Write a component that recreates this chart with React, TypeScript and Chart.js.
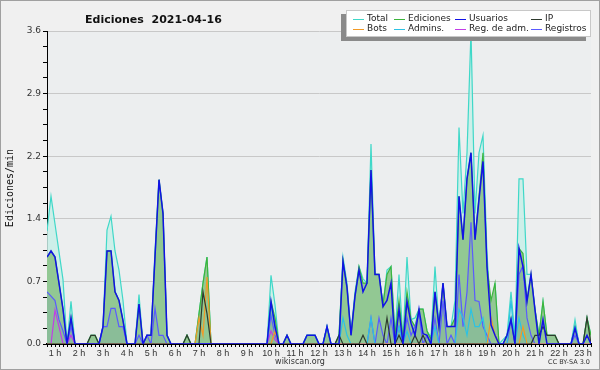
import React, { useEffect, useRef } from 'react';
import { Chart, registerables } from 'chart.js';

Chart.register(...registerables);

// 10-minute bins, first bin = 4 (00:40), last = 140 (23:20)
const START_BIN = 4;

const total = [
  1.3, 1.7,
  1.38, 1.06, 0.74, 0, 0.49, 0,
  0, 0, 0, 0.1, 0.1, 0,
  0.2, 1.31, 1.47, 1.07, 0.85, 0.5,
  0, 0, 0, 0.57, 0, 0.1,
  0.1, 1.07, 1.89, 1.51, 0.1, 0,
  0, 0, 0, 0.1, 0, 0,
  0.35, 0.7, 1.0, 0, 0, 0,
  0, 0, 0, 0, 0, 0,
  0, 0, 0, 0, 0, 0,
  0.79, 0.45, 0, 0, 0.1, 0,
  0, 0, 0, 0.1, 0.1, 0.1,
  0, 0, 0.2, 0, 0, 0.1,
  1.0, 0.7, 0.12, 0.6, 0.89, 0.75,
  0.7, 2.3, 0.8, 0.8, 0.45, 0.85,
  0.89, 0.1, 0.8, 0.05, 1.0, 0.28,
  0.3, 0.4, 0.4, 0.15, 0.08, 0.89,
  0.2, 0.7, 0.2, 0.2, 0.5, 2.49,
  1.5, 2.2, 3.6, 1.5, 2.2, 2.4,
  1.04, 0.3, 0.7, 0, 0.05, 0.1,
  0.6, 0.08, 1.9, 1.9, 0.8, 0.8,
  0.39, 0.1, 0.49, 0.1, 0.1, 0.1,
  0, 0, 0, 0, 0.28, 0,
  0, 0.3, 0.1,
];

const ediciones = [
  1.0, 1.07,
  1.0, 0.7, 0.4, 0, 0.3, 0,
  0, 0, 0, 0.1, 0.1, 0,
  0.2, 1.07, 1.07, 0.6, 0.5, 0.27,
  0, 0, 0, 0.46, 0, 0.1,
  0.1, 1.0, 1.89, 1.5, 0.1, 0,
  0, 0, 0, 0.1, 0, 0,
  0.35, 0.7, 1.0, 0, 0, 0,
  0, 0, 0, 0, 0, 0,
  0, 0, 0, 0, 0, 0,
  0.49, 0.3, 0, 0, 0.1, 0,
  0, 0, 0, 0.1, 0.1, 0.1,
  0, 0, 0.2, 0, 0, 0.1,
  0.95, 0.65, 0.1, 0.55, 0.89, 0.7,
  0.7, 2.0, 0.8, 0.8, 0.45, 0.8,
  0.89, 0.1, 0.5, 0.05, 0.6, 0.28,
  0.2, 0.4, 0.4, 0.15, 0.05, 0.6,
  0.2, 0.7, 0.2, 0.2, 0.3, 1.7,
  1.2, 1.9, 2.2, 1.2, 1.7, 2.2,
  0.9, 0.5, 0.7, 0, 0, 0.1,
  0.3, 0, 1.1, 1.04, 0.5, 0.8,
  0.4, 0.1, 0.49, 0.1, 0.1, 0.1,
  0, 0, 0, 0, 0.2, 0,
  0, 0.3, 0.1,
];

const usuarios = [
  1.0, 1.07,
  1.0, 0.7, 0.4, 0, 0.3, 0,
  0, 0, 0, 0, 0, 0,
  0.2, 1.07, 1.07, 0.6, 0.5, 0.27,
  0, 0, 0, 0.46, 0, 0.1,
  0.1, 1.0, 1.89, 1.5, 0.1, 0,
  0, 0, 0, 0, 0, 0,
  0, 0, 0, 0, 0, 0,
  0, 0, 0, 0, 0, 0,
  0, 0, 0, 0, 0, 0,
  0.49, 0.2, 0, 0, 0.1, 0,
  0, 0, 0, 0.1, 0.1, 0.1,
  0, 0, 0.2, 0, 0, 0,
  0.95, 0.65, 0.1, 0.55, 0.85, 0.6,
  0.7, 2.0, 0.8, 0.8, 0.43, 0.5,
  0.7, 0, 0.4, 0, 0.49, 0.24,
  0.1, 0.4, 0.12, 0.1, 0, 0.6,
  0.2, 0.7, 0.2, 0.2, 0.2, 1.7,
  1.2, 1.9, 2.2, 1.2, 1.66, 2.1,
  0.89, 0.22, 0.1, 0, 0, 0.1,
  0.28, 0, 1.1, 0.89, 0.49, 0.8,
  0.39, 0, 0.28, 0, 0, 0,
  0, 0, 0, 0, 0.18, 0,
  0, 0.1, 0,
];

const ip = [
  0, 0,
  0, 0, 0, 0, 0, 0,
  0, 0, 0, 0.1, 0.1, 0,
  0, 0, 0, 0, 0, 0,
  0, 0, 0, 0, 0, 0,
  0, 0, 0, 0, 0, 0,
  0, 0, 0, 0.1, 0, 0,
  0, 0.6, 0.35, 0, 0, 0,
  0, 0, 0, 0, 0, 0,
  0, 0, 0, 0, 0, 0,
  0, 0, 0, 0, 0, 0,
  0, 0, 0, 0, 0, 0,
  0, 0, 0, 0, 0, 0.1,
  0, 0, 0, 0, 0, 0.1,
  0, 0, 0, 0, 0, 0.3,
  0, 0, 0.1, 0, 0, 0,
  0.1, 0, 0.1, 0, 0, 0,
  0, 0, 0, 0, 0, 0,
  0, 0, 0, 0, 0, 0,
  0, 0, 0, 0, 0, 0,
  0, 0, 0, 0, 0, 0,
  0.1, 0.1, 0.2, 0.1, 0.1, 0.1,
  0, 0, 0, 0, 0, 0,
  0, 0.3, 0,
];

const bots = [
  0, 0,
  0, 0, 0, 0, 0, 0,
  0, 0, 0, 0, 0, 0,
  0, 0, 0, 0, 0, 0,
  0, 0, 0, 0, 0, 0,
  0, 0, 0, 0, 0, 0,
  0, 0, 0, 0, 0, 0,
  0.3, 0.1, 0.77, 0, 0, 0,
  0, 0, 0, 0, 0, 0,
  0, 0, 0, 0, 0, 0,
  0, 0.15, 0, 0, 0, 0,
  0, 0, 0, 0, 0, 0,
  0, 0, 0, 0, 0, 0,
  0, 0, 0, 0, 0, 0,
  0, 0, 0, 0, 0, 0,
  0, 0, 0, 0, 0, 0,
  0, 0, 0, 0, 0, 0,
  0, 0, 0, 0, 0, 0,
  0, 0, 0, 0, 0, 0,
  0, 0.3, 0.1, 0, 0, 0,
  0, 0, 0, 0.2, 0, 0,
  0, 0, 0, 0, 0, 0,
  0, 0, 0, 0, 0, 0,
  0, 0, 0,
];

const admins = [
  0, 0,
  0, 0, 0, 0, 0, 0,
  0, 0, 0, 0, 0, 0,
  0, 0, 0, 0, 0, 0,
  0, 0, 0, 0, 0, 0,
  0, 0, 0, 0, 0, 0,
  0, 0, 0, 0, 0, 0,
  0, 0, 0, 0, 0, 0,
  0, 0, 0, 0, 0, 0,
  0, 0, 0, 0, 0, 0,
  0.45, 0.2, 0, 0, 0, 0,
  0, 0, 0, 0.1, 0.1, 0.1,
  0, 0, 0.2, 0, 0, 0,
  0.3, 0.1, 0, 0, 0, 0,
  0, 0.3, 0, 0, 0, 0,
  0, 0, 0.2, 0, 0.15, 0,
  0, 0, 0, 0, 0, 0.2,
  0, 0, 0, 0, 0, 0.4,
  0.3, 0.1, 0.4, 0.2, 0.2, 0.3,
  0, 0, 0, 0, 0, 0,
  0.5, 0, 0.3, 0.1, 0, 0,
  0, 0, 0, 0, 0, 0,
  0, 0, 0, 0, 0.2, 0,
  0, 0, 0,
];

const regAdm = [
  0, 0,
  0.39, 0.2, 0, 0, 0.1, 0,
  0, 0, 0, 0, 0, 0,
  0, 0, 0, 0, 0, 0,
  0, 0, 0, 0, 0, 0,
  0, 0, 0, 0, 0, 0,
  0, 0, 0, 0, 0, 0,
  0, 0, 0, 0, 0, 0,
  0, 0, 0, 0, 0, 0,
  0, 0, 0, 0, 0, 0,
  0.15, 0.05, 0, 0, 0, 0,
  0, 0, 0, 0, 0, 0,
  0, 0, 0, 0, 0, 0,
  0, 0, 0, 0, 0, 0,
  0, 0, 0, 0, 0, 0,
  0, 0, 0, 0, 0, 0,
  0, 0, 0, 0, 0, 0,
  0, 0, 0, 0, 0, 0,
  0, 0, 0, 0, 0, 0,
  0, 0, 0, 0, 0, 0,
  0, 0, 0, 0, 0, 0,
  0, 0, 0, 0, 0, 0,
  0, 0, 0, 0, 0, 0,
  0, 0, 0,
];

const registros = [
  0.6, 0.55,
  0.5, 0.28, 0.15, 0, 0.2, 0,
  0, 0, 0, 0, 0, 0,
  0.2, 0.2, 0.41, 0.41, 0.2, 0.2,
  0, 0, 0, 0.1, 0, 0.1,
  0, 0.41, 0.1, 0.1, 0, 0,
  0, 0, 0, 0, 0, 0,
  0, 0, 0, 0, 0, 0,
  0, 0, 0, 0, 0, 0,
  0, 0, 0, 0, 0, 0,
  0.33, 0.1, 0, 0, 0, 0,
  0, 0, 0, 0, 0, 0,
  0, 0, 0, 0, 0, 0,
  0, 0, 0, 0, 0, 0,
  0, 0.3, 0, 0.3, 0.1, 0,
  0.3, 0, 0.2, 0, 0.3, 0.1,
  0.2, 0.35, 0, 0.1, 0, 0.3,
  0, 0.5, 0, 0.1, 0, 0.8,
  0.2, 0.6, 1.4, 0.5, 0.49, 0.2,
  0.1, 0, 0, 0, 0, 0,
  0.28, 0, 0.8, 0.9, 0.3, 0.1,
  0, 0, 0, 0, 0, 0,
  0, 0, 0, 0, 0.1, 0,
  0, 0, 0,
];

const legendLabels = ['Total', 'Ediciones', 'Usuarios', 'IP', 'Bots', 'Admins.', 'Reg. de adm.', 'Registros'];
const titleText = 'Ediciones  2021-04-16';
const yTitle = 'Ediciones/min';

const COLORS = {
  total: '#3fd8c8',
  ediciones: '#3cb53c',
  usuarios: '#1212e6',
  ip: '#2e3a2e',
  bots: '#f29a26',
  admins: '#2cc2e4',
  regAdm: '#c23de6',
  registros: '#5a5aff',
};
const legendColors = [COLORS.total, COLORS.ediciones, COLORS.usuarios, COLORS.ip, COLORS.bots, COLORS.admins, COLORS.regAdm, COLORS.registros];

const toPts = (arr: number[]) => arr.map((v, i) => ({ x: START_BIN + i, y: v }));

const decor = {
  id: 'decor',
  beforeDraw(chart: any) {
    const { ctx, chartArea: a } = chart;
    ctx.save();
    ctx.fillStyle = '#f0f0f0';
    ctx.fillRect(0, 0, chart.width, chart.height);
    ctx.fillStyle = '#eceeef';
    ctx.fillRect(a.left, a.top, a.right - a.left, a.bottom - a.top);
    ctx.restore();
  },
  afterDraw(chart: any) {
    const { ctx } = chart;
    ctx.save();
    // title
    ctx.fillStyle = '#111';
    ctx.font = 'bold 11px "DejaVu Sans"';
    ctx.textAlign = 'left';
    ctx.textBaseline = 'alphabetic';
    ctx.fillText(titleText, 85, 23);
    // y title
    ctx.save();
    ctx.translate(10, 188);
    ctx.rotate(-Math.PI / 2);
    ctx.font = '10px "DejaVu Sans Mono"';
    ctx.textAlign = 'center';
    ctx.textBaseline = 'middle';
    ctx.fillStyle = '#111';
    ctx.fillText(yTitle, 0, 0);
    ctx.restore();
    // legend box with shadow
    ctx.fillStyle = '#8a8a8a';
    ctx.fillRect(341, 14, 245, 27);
    ctx.fillStyle = '#ffffff';
    ctx.fillRect(346, 10, 245, 27);
    ctx.strokeStyle = '#c8c8c8';
    ctx.lineWidth = 1;
    ctx.strokeRect(346.5, 10.5, 244, 26);
    const cols = [353, 394, 455, 531];
    const rows = [19, 29];
    ctx.font = '9px "DejaVu Sans"';
    ctx.textBaseline = 'middle';
    ctx.textAlign = 'left';
    legendLabels.forEach((lab, i) => {
      const cx = cols[i % 4];
      const cy = rows[Math.floor(i / 4)];
      ctx.strokeStyle = legendColors[i];
      ctx.lineWidth = 1;
      ctx.beginPath();
      ctx.moveTo(cx, cy + 0.5);
      ctx.lineTo(cx + 11, cy + 0.5);
      ctx.stroke();
      ctx.fillStyle = '#222';
      ctx.fillText(lab, cx + 14, cy);
    });
    // footer
    ctx.fillStyle = '#333';
    ctx.font = '8px "DejaVu Sans"';
    ctx.textAlign = 'center';
    ctx.textBaseline = 'alphabetic';
    ctx.fillText('wikiscan.org', 300, 364);
    ctx.font = '6.5px "DejaVu Sans"';
    ctx.textAlign = 'right';
    ctx.fillText('CC BY-SA 3.0', 590, 364);
    // outer border
    ctx.strokeStyle = '#a0a0a0';
    ctx.lineWidth = 1;
    ctx.strokeRect(0.5, 0.5, chart.width - 1, chart.height - 1);
    ctx.restore();
  },
};

export default function App() {
  const ref = useRef<HTMLCanvasElement | null>(null);
  useEffect(() => {
    document.body.style.margin = '0';
    const canvas = ref.current;
    if (!canvas) return;
    const line = (label: string, data: number[], color: string, extra: any) => ({
      label,
      data: toPts(data),
      borderColor: color,
      borderWidth: 1.2,
      pointRadius: 0,
      tension: 0,
      fill: false,
      ...extra,
    });
    const chart = new Chart(canvas, {
      type: 'line',
      data: {
        datasets: [
          line('Usuarios', usuarios, COLORS.usuarios, { borderWidth: 1.5, order: 1 }),
          line('IP', ip, COLORS.ip, { order: 2 }),
          line('Bots', bots, COLORS.bots, { order: 3 }),
          line('Reg. de adm.', regAdm, COLORS.regAdm, { order: 4 }),
          line('Admins.', admins, COLORS.admins, { order: 5 }),
          line('Registros', registros, COLORS.registros, { order: 6, fill: 'origin', backgroundColor: 'rgba(70,100,200,0.10)' }),
          line('Ediciones', ediciones, COLORS.ediciones, { order: 8, fill: 'origin', backgroundColor: '#92c893' }),
          line('Total', total, COLORS.total, { order: 9, fill: 'origin', backgroundColor: 'rgba(200,238,232,0.85)' }),
        ],
      },
      options: {
        responsive: false,
        animation: false,
        devicePixelRatio: 1,
        layout: { padding: { left: 0, right: 9, top: 31, bottom: 0 } },
        plugins: { legend: { display: false }, title: { display: false }, tooltip: { enabled: false } },
        scales: {
          x: {
            type: 'linear',
            min: START_BIN,
            max: START_BIN + total.length - 1,
            afterBuildTicks: (s: any) => {
              const t = [];
              for (let b = START_BIN; b <= START_BIN + total.length - 1; b++) t.push({ value: b });
              s.ticks = t;
            },
            afterFit: (s: any) => { s.height = 26; },
            ticks: {
              autoSkip: false,
              maxRotation: 0,
              minRotation: 0,
              padding: 1,
              color: '#333',
              font: { family: 'Liberation Sans', size: 9 },
              callback: (v: any) => (Number(v) % 6 === 0 ? `${Number(v) / 6} h` : ''),
            },
            grid: { drawOnChartArea: false, tickColor: '#000', tickLength: 3 },
            border: { color: '#000', width: 2 },
          },
          y: {
            type: 'linear',
            min: 0,
            max: 3.6,
            afterBuildTicks: (s: any) => {
              const t = [];
              for (let i = 0; i <= 20; i++) t.push({ value: +(i * 0.18).toFixed(4) });
              s.ticks = t;
            },
            afterFit: (s: any) => { s.width = 47; },
            ticks: {
              autoSkip: false,
              padding: 2,
              color: '#333',
              font: { family: 'DejaVu Sans', size: 9 },
              callback: (v: any, i: number) => (i % 4 === 0 ? Number(v).toFixed(1) : ''),
            },
            grid: {
              color: (c: any) => (c.index % 4 === 0 ? '#c8c8c8' : 'rgba(0,0,0,0)'),
              tickColor: '#000',
              tickLength: 4,
            },
            border: { color: '#000', width: 1 },
          },
        },
      },
      plugins: [decor],
    } as any);
    return () => chart.destroy();
  }, []);
  return <canvas ref={ref} width={600} height={370} style={{ display: 'block' }} />;
}
